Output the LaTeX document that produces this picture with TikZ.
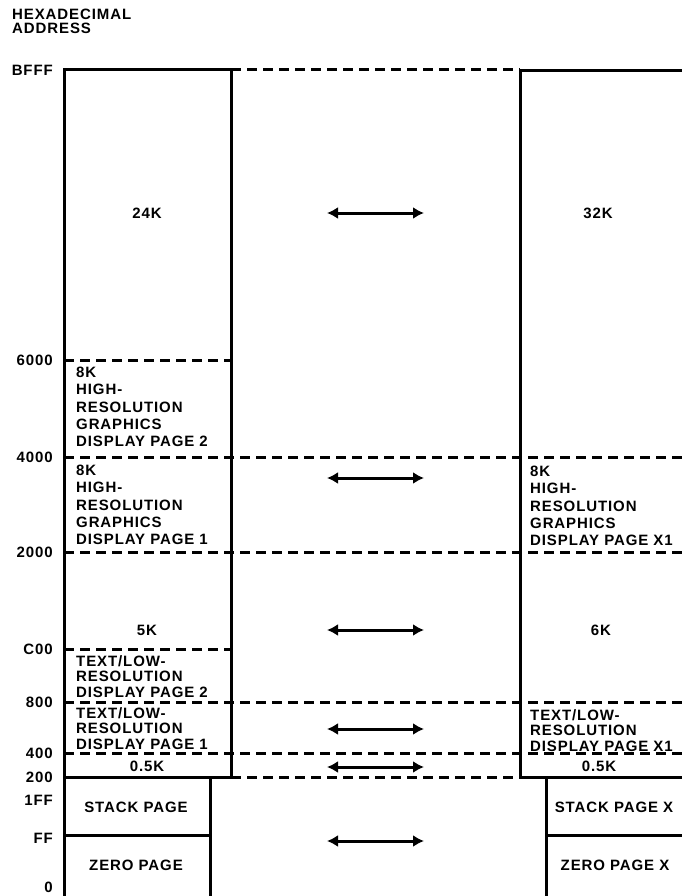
\documentclass[tikz,border=0pt]{standalone}
\usepackage{fontspec}
\setmainfont{Liberation Sans}[LetterSpace=6]
\usetikzlibrary{arrows.meta}
\begin{document}
\begin{tikzpicture}[x=1pt,y=-1pt,
  solidln/.style={line width=3pt},
  dashln/.style={line width=3pt,dash pattern=on 10pt off 6pt},
  txt/.style={font=\fontsize{15}{17.3}\selectfont\bfseries,inner sep=0pt},
  blk/.style={txt,align=left,anchor=north west},
  blks/.style={font=\fontsize{15}{15.5}\selectfont\bfseries,inner sep=0pt,align=left,anchor=north west},
  addr/.style={txt,anchor=east},
  dbl/.style={line width=3pt,{Latex[length=11pt,width=12pt]}-{Latex[length=11pt,width=12pt]}}]
\useasboundingbox (0,0) rectangle (682,896);
% header
\node[txt,anchor=north west,align=left,font=\fontsize{15}{14}\selectfont\bfseries] (hdr) at (12,9) {HEXADECIMAL\\ADDRESS};
% address labels
\node[addr] (aBFFF) at (53,70) {BFFF};
\node[addr] (a6000) at (53,360) {6000};
\node[addr] (a4000) at (53,457) {4000};
\node[addr] (a2000) at (53,552) {2000};
\node[addr] (aC00) at (53,649) {C00};
\node[addr] (a800) at (53,702) {800};
\node[addr] (a400) at (53,753) {400};
\node[addr] (a200) at (53,777) {200};
\node[addr] (a1FF) at (53,800) {1FF};
\node[addr] (aFF) at (53,838) {FF};
\node[addr] (a0) at (53,887) {0};
% left box solid
\draw[solidln] (64,896) -- (64,70) -- (231,70) -- (231,777) -- (64,777);
\draw[solidln] (210,777) -- (210,896);
\draw[solidln] (64,835) -- (210,835);
% right box solid
\draw[solidln] (682,71) -- (520,71) -- (520,777) -- (682,777);
\draw[solidln] (546,777) -- (546,896);
\draw[solidln] (546,835) -- (682,835);
% dashed lines
\draw[dashln] (231,70) -- (520,70);
\draw[dashln] (64,360) -- (231,360);
\draw[dashln] (64,457) -- (682,457);
\draw[dashln] (64,552) -- (682,552);
\draw[dashln] (64,649) -- (231,649);
\draw[dashln] (64,702) -- (682,702);
\draw[dashln] (64,753) -- (682,753);
\draw[dashln] (231,777) -- (520,777);
% left texts
\node[txt] (l24k) at (147,213) {24K};
\node[blk] (lhr2) at (76,367) {8K\\HIGH-\\RESOLUTION\\GRAPHICS\\DISPLAY PAGE 2};
\node[blk] (lhr1) at (76,465) {8K\\HIGH-\\RESOLUTION\\GRAPHICS\\DISPLAY PAGE 1};
\node[txt] (l5k) at (147,630) {5K};
\node[blks] (ltl2) at (76,655) {TEXT/LOW-\\RESOLUTION\\DISPLAY PAGE 2};
\node[blks] (ltl1) at (76,707) {TEXT/LOW-\\RESOLUTION\\DISPLAY PAGE 1};
\node[txt] (lhalf) at (147,766) {0.5K};
\node[txt] (lstack) at (136,807) {STACK PAGE};
\node[txt] (lzero) at (136,865) {ZERO PAGE};
% right texts
\node[txt] (r32k) at (598,213) {32K};
\node[blk] (rhr) at (530,466) {8K\\HIGH-\\RESOLUTION\\GRAPHICS\\DISPLAY PAGE X1};
\node[txt] (r6k) at (601,630) {6K};
\node[blks] (rtl) at (530,709) {TEXT/LOW-\\RESOLUTION\\DISPLAY PAGE X1};
\node[txt] (rhalf) at (599,766) {0.5K};
\node[txt] (rstack) at (614,807) {STACK PAGE X};
\node[txt] (rzero) at (615,865) {ZERO PAGE X};
% arrows
\foreach \n/\y in {a/213,b/478,c/630,d/729,e/767,f/841}{
  \coordinate (\n L) at (327,\y);
  \coordinate (\n R) at (424,\y);
  \draw[dbl] (\n L) -- (\n R);
}
\end{tikzpicture}
\end{document}
